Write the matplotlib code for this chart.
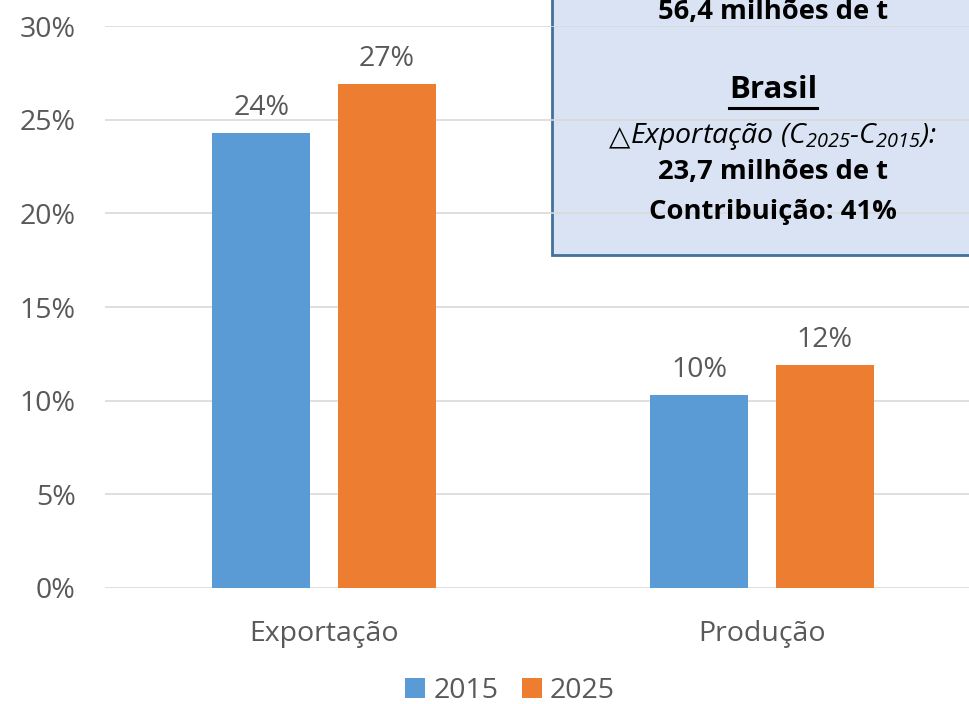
import matplotlib
matplotlib.use('Agg')
import matplotlib.pyplot as plt
import matplotlib.patches as patches
import matplotlib.lines as mlines
import numpy as np

# Data
categories = ['Exportação', 'Produção']
series_names = ['2015', '2025']
values_2015 = [24.3, 10.3]
values_2025 = [26.9, 11.9]
labels_2015 = ['24%', '10%']
labels_2025 = ['27%', '12%']
yticks = [0, 5, 10, 15, 20, 25, 30]

BLUE = '#5B9BD5'
ORANGE = '#ED7D31'
GRID = '#D9D9D9'
TXT = '#595959'
FS = 20.5

plt.rcParams['font.family'] = ['Open Sans', 'DejaVu Sans']
plt.rcParams['mathtext.fontset'] = 'custom'
plt.rcParams['mathtext.rm'] = 'Open Sans:italic'
plt.rcParams['mathtext.it'] = 'Open Sans:italic'

fig = plt.figure(figsize=(9.7, 7.04), dpi=100)
ax = fig.add_axes([0.1082, 0.1648, 0.8918, 0.7982])
ax.set_facecolor('none')

# Info box behind the axes (gridlines show over it)
box = patches.Rectangle((552 / 970, (704 - 255) / 704), 0.5, 0.5,
                        transform=fig.transFigure, facecolor='#DAE3F3',
                        edgecolor='#41719C', linewidth=2, zorder=-1)
fig.patches.append(box)

x = np.arange(len(categories))
w = 0.224
off = 0.143
b1 = ax.bar(x - off, values_2015, w, color=BLUE, label=series_names[0], zorder=3)
b2 = ax.bar(x + off, values_2025, w, color=ORANGE, label=series_names[1], zorder=3)

for bars, labs in [(b1, labels_2015), (b2, labels_2025)]:
    for bar, lab in zip(bars, labs):
        ax.annotate(lab, (bar.get_x() + bar.get_width() / 2, bar.get_height()),
                    xytext=(0, 8), textcoords='offset points', ha='center',
                    va='bottom', fontsize=FS, color=TXT)

ax.set_xlim(-0.5, 1.475)
ax.set_ylim(0, 30)
ax.set_yticks(yticks)
ax.set_yticklabels([f'{t}%' for t in yticks])
ax.set_xticks(x)
ax.set_xticklabels(categories)
ax.tick_params(axis='y', length=0, pad=21, labelsize=FS, labelcolor=TXT)
ax.tick_params(axis='x', length=0, pad=23, labelsize=FS, labelcolor=TXT)
ax.yaxis.grid(True, color=GRID, linewidth=1.2, zorder=0)
ax.set_axisbelow(True)
for s in ax.spines.values():
    s.set_visible(False)

fig.legend(handles=[b1, b2], loc='center', bbox_to_anchor=(0.526, 0.018),
           ncol=2, frameon=False, fontsize=FS, labelcolor=TXT,
           handlelength=0.7, handleheight=0.7, handletextpad=0.3,
           columnspacing=0.8)

# Box text
cx = 773 / 970
def fy(py):
    return (704 - py) / 704

fig.text(cx, fy(12), '56,4 milhões de t', ha='center', va='center',
         fontsize=19.7, fontweight='bold', color='black')
brasil = fig.text(cx, fy(90), 'Brasil', ha='center', va='center',
                  fontsize=22.5, fontweight='bold', color='black')
fig.text(cx, fy(172), '23,7 milhões de t', ha='center', va='center',
         fontsize=19.7, fontweight='bold', color='black')
fig.text(cx, fy(212), 'Contribuição: 41%', ha='center', va='center',
         fontsize=19.7, fontweight='bold', color='black')

renderer = fig.canvas.get_renderer()

# Italic line: triangle drawn separately (DejaVu), rest with mathtext subscripts
delta = fig.text(0, fy(137), '△', ha='left', va='center', fontsize=20,
                 family='DejaVu Sans', color='black')
tri_w = delta.get_window_extent(renderer).width / fig.bbox.width
expo = fig.text(cx + tri_w / 2, fy(137), 'Exportação (C$_{2025}$-C$_{2015}$):',
                ha='center', va='center', fontsize=20.5, style='italic',
                color='black')
eb = expo.get_window_extent(renderer).transformed(fig.transFigure.inverted())
delta.set_x(eb.x0 - tri_w)

# Underline for "Brasil"
bb = brasil.get_window_extent(renderer).transformed(fig.transFigure.inverted())
fig.add_artist(mlines.Line2D([bb.x0, bb.x1], [fy(108), fy(108)],
                             transform=fig.transFigure, color='black', linewidth=2.2))

fig.savefig('out.png', dpi=100)
